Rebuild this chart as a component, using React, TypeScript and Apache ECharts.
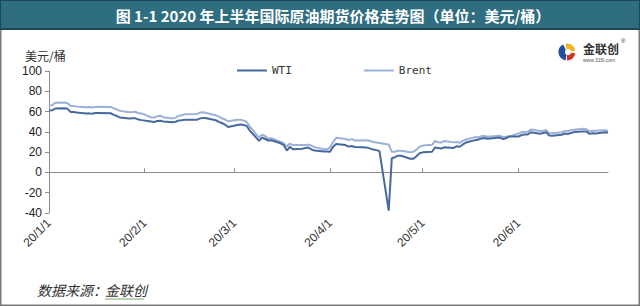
import React, { useEffect, useRef } from "react";
import * as echarts from "echarts";

const dates = [
  "2020-01-01","2020-01-02","2020-01-03","2020-01-06","2020-01-07","2020-01-08","2020-01-09","2020-01-10",
  "2020-01-13","2020-01-14","2020-01-15","2020-01-16","2020-01-17","2020-01-21","2020-01-22","2020-01-23","2020-01-24",
  "2020-01-27","2020-01-28","2020-01-29","2020-01-30","2020-01-31",
  "2020-02-03","2020-02-04","2020-02-05","2020-02-06","2020-02-07","2020-02-10","2020-02-11","2020-02-12","2020-02-13","2020-02-14",
  "2020-02-18","2020-02-19","2020-02-20","2020-02-21","2020-02-24","2020-02-25","2020-02-26","2020-02-27","2020-02-28",
  "2020-03-02","2020-03-03","2020-03-04","2020-03-05","2020-03-06","2020-03-09","2020-03-10","2020-03-11","2020-03-12","2020-03-13",
  "2020-03-16","2020-03-17","2020-03-18","2020-03-19","2020-03-20","2020-03-23","2020-03-24","2020-03-25","2020-03-26","2020-03-27",
  "2020-03-30","2020-03-31","2020-04-01","2020-04-02","2020-04-03","2020-04-06","2020-04-07","2020-04-08","2020-04-09",
  "2020-04-13","2020-04-14","2020-04-15","2020-04-16","2020-04-17","2020-04-20","2020-04-21","2020-04-22","2020-04-23","2020-04-24",
  "2020-04-27","2020-04-28","2020-04-29","2020-04-30","2020-05-01","2020-05-04","2020-05-05","2020-05-06","2020-05-07","2020-05-08",
  "2020-05-11","2020-05-12","2020-05-13","2020-05-14","2020-05-15","2020-05-18","2020-05-19","2020-05-20","2020-05-21","2020-05-22",
  "2020-05-26","2020-05-27","2020-05-28","2020-05-29","2020-06-01","2020-06-02","2020-06-03","2020-06-04","2020-06-05",
  "2020-06-08","2020-06-09","2020-06-10","2020-06-11","2020-06-12","2020-06-15","2020-06-16","2020-06-17","2020-06-18","2020-06-19",
  "2020-06-22","2020-06-23","2020-06-24","2020-06-25","2020-06-26","2020-06-29","2020-06-30",
];

const wti = [
  61.1, 61.18, 63.05, 63.27, 62.7, 59.61, 59.56, 59.04,
  58.08, 58.23, 57.81, 58.52, 58.54, 58.34, 56.74, 55.59, 54.19,
  53.14, 53.48, 53.33, 52.14, 51.56,
  50.11, 49.61, 50.75, 50.95, 50.32, 49.57, 49.94, 51.17, 51.42, 52.05,
  52.05, 53.29, 53.78, 53.38, 51.43, 49.9, 48.73, 47.09, 44.76,
  46.75, 47.18, 46.78, 45.9, 41.28, 31.13, 34.36, 32.98, 31.5, 31.73,
  28.7, 26.95, 21.5, 25.22, 22.9, 23.36, 24.01, 24.49, 22.6, 21.51,
  20.6, 20.6, 20.5, 25.32, 28.0, 27.0, 25.5, 26.0, 25.0,
  24.5, 23.5, 22.5, 22.0, 21.0, -37.63, 14.0, 15.0, 16.5, 16.5,
  13.5, 13.5, 16.0, 19.0, 19.78, 20.39, 24.56, 23.99, 23.55, 24.74,
  24.14, 25.78, 25.29, 27.56, 29.43, 31.82, 32.5, 33.49, 33.92, 33.25,
  34.35, 32.81, 33.71, 35.49, 35.44, 36.81, 37.29, 37.41, 39.55,
  38.19, 38.94, 39.6, 36.34, 36.26, 37.12, 38.38, 37.96, 38.84, 39.75,
  40.46, 40.37, 38.01, 38.72, 38.49, 39.7, 39.27,
];

const brent = [
  66.0, 66.25, 68.6, 68.91, 68.27, 65.44, 65.37, 64.98,
  64.2, 64.49, 64.0, 64.62, 64.85, 64.59, 63.21, 62.04, 60.69,
  59.32, 59.51, 59.81, 58.29, 58.16,
  54.45, 53.96, 55.28, 55.93, 54.47, 53.27, 54.01, 55.79, 56.34, 57.32,
  57.67, 59.12, 59.31, 58.5, 56.3, 54.95, 53.43, 52.18, 50.52,
  51.9, 51.86, 51.13, 49.99, 45.27, 34.36, 37.22, 35.79, 33.22, 33.85,
  30.05, 28.73, 25.5, 28.47, 26.98, 27.03, 27.15, 27.39, 26.34, 24.93,
  22.76, 22.74, 24.74, 29.94, 34.11, 33.05, 31.87, 32.84, 31.48,
  31.74, 31.0, 30.0, 29.5, 29.0, 27.5, 20.3, 20.37, 21.33, 21.44,
  19.99, 20.46, 22.54, 25.27, 26.44, 27.2, 30.97, 29.72, 29.46, 30.97,
  29.63, 29.98, 29.19, 31.13, 32.5, 34.81, 34.65, 35.75, 36.06, 35.13,
  36.17, 34.74, 35.29, 35.33, 38.32, 39.57, 39.79, 39.99, 42.3,
  40.8, 41.18, 41.73, 38.55, 38.73, 39.72, 40.96, 40.71, 41.51, 42.19,
  43.08, 42.63, 40.31, 41.05, 41.02, 41.71, 41.15,
];

const seriesNames = ["WTI", "Brent"];
const yTicks = { min: -40, max: 100, interval: 20 };
const xRange = { min: "2020-01-01", max: "2020-06-30" };

const titleText = "图 1-1 2020 年上半年国际原油期货价格走势图（单位：美元/桶）";
const unitText = "美元/桶";
const sourceLabel = "数据来源：";
const sourceName = "金联创";
const logoName = "金联创";
const logoUrl = "www.315i.com";

const CJK = "'Noto Sans CJK SC', 'Noto Sans', sans-serif";
const LATIN = "'Liberation Sans', Arial, sans-serif";

export default function App() {
  const ref = useRef<HTMLDivElement>(null);

  useEffect(() => {
    if (!ref.current) return;
    const chart = echarts.init(ref.current, undefined, { renderer: "svg" });

    const toPairs = (vals: number[]) => dates.map((d, i) => [d, vals[i]]);

    const option: any = {
      animation: false,
      backgroundColor: "#ffffff",
      grid: { left: 49, right: 32, top: 71, bottom: 93, containLabel: false },
      legend: {
        data: seriesNames,
        left: 232,
        top: 60,
        icon: "rect",
        itemWidth: 30,
        itemHeight: 2,
        itemGap: 72,
        textStyle: { fontFamily: "'DejaVu Sans Mono', monospace", fontSize: 11, color: "#333" },
      },
      xAxis: {
        type: "time",
        min: xRange.min,
        max: xRange.max,
        minInterval: 28 * 86400000,
        maxInterval: 31 * 86400000,
        splitLine: { show: false },
        axisLine: { lineStyle: { color: "#8c8c8c", width: 1 } },
        axisTick: { show: true, inside: true, length: 4, lineStyle: { color: "#8c8c8c" } },
        axisLabel: {
          rotate: 45,
          formatter: "{yy}/{M}/{d}",
          fontFamily: LATIN,
          fontSize: 12,
          color: "#333",
          margin: 8,
          showMinLabel: true,
          showMaxLabel: false,
          hideOverlap: false,
        },
      },
      yAxis: {
        type: "value",
        min: yTicks.min,
        max: yTicks.max,
        interval: yTicks.interval,
        splitLine: { show: false },
        axisLine: { show: true, lineStyle: { color: "#8c8c8c", width: 1 } },
        axisTick: { show: true, length: 4, lineStyle: { color: "#8c8c8c" } },
        axisLabel: { fontFamily: LATIN, fontSize: 12, color: "#222", margin: 7 },
      },
      series: [
        {
          name: "Brent",
          type: "line",
          data: toPairs(brent),
          showSymbol: false,
          symbol: "none",
          z: 2,
          lineStyle: { color: "#9cb1d7", width: 2 },
          itemStyle: { color: "#9cb1d7" },
        },
        {
          name: "WTI",
          type: "line",
          data: toPairs(wti),
          showSymbol: false,
          symbol: "none",
          z: 3,
          lineStyle: { color: "#46699f", width: 2 },
          itemStyle: { color: "#46699f" },
        },
      ],
      graphic: [
        {
          type: "rect",
          shape: { x: 0.5, y: 0.5, width: 639, height: 305 },
          style: { fill: "none", stroke: "#7a7a7a", lineWidth: 2 },
          z: 10,
        },
        {
          type: "rect",
          shape: { x: 0, y: 0, width: 640, height: 29 },
          style: { fill: "#2f6d81", stroke: "#1e4654", lineWidth: 2 },
          z: 11,
        },
        {
          type: "text",
          x: 333,
          y: 15,
          style: {
            text: titleText,
            font: `bold 15px ${CJK}`,
            fill: "#ffffff",
            align: "center",
            verticalAlign: "middle",
          },
          z: 12,
        },
        {
          type: "text",
          x: 25,
          y: 55,
          style: { text: unitText, font: `12px ${CJK}`, fill: "#333", verticalAlign: "middle" },
        },
        {
          type: "text",
          x: 37,
          y: 290,
          style: { text: sourceLabel, font: `italic 14px ${CJK}`, fill: "#333", verticalAlign: "middle" },
        },
        {
          type: "text",
          x: 105,
          y: 290,
          style: { text: sourceName, font: `italic 14px ${CJK}`, fill: "#333", verticalAlign: "middle" },
        },
        {
          type: "line",
          shape: { x1: 105, y1: 299, x2: 144, y2: 299 },
          style: { stroke: "#7aa66a", lineWidth: 1 },
        },
        // logo
        {
          type: "group",
          x: 567,
          y: 52,
          children: [
            { type: "circle", shape: { cx: 0, cy: 0, r: 8.5 }, style: { fill: "#ffffff" } },
            { type: "sector", shape: { cx: 0, cy: 0, r: 8.5, r0: 0, startAngle: Math.PI * 0.55, endAngle: Math.PI * 1.35 }, style: { fill: "#1f4fa3" } },
            { type: "sector", shape: { cx: 0, cy: 0, r: 8.5, r0: 0, startAngle: Math.PI * 0.05, endAngle: Math.PI * 0.5 }, style: { fill: "#d8312a" } },
            { type: "sector", shape: { cx: 0, cy: 0, r: 8.5, r0: 0, startAngle: Math.PI * 1.45, endAngle: Math.PI * 1.95 }, style: { fill: "#f2b418" } },
            { type: "circle", shape: { cx: 1, cy: 0, r: 3.2 }, style: { fill: "#ffffff" } },
          ],
        },
        {
          type: "text",
          x: 583,
          y: 48,
          style: { text: logoName, font: `bold 12px ${CJK}`, fill: "#333", verticalAlign: "middle" },
        },
        {
          type: "text",
          x: 621,
          y: 41,
          style: { text: "®", font: `6px ${LATIN}`, fill: "#333", verticalAlign: "middle" },
        },
        {
          type: "text",
          x: 583,
          y: 60,
          style: { text: logoUrl, font: `5px ${LATIN}`, fill: "#555", verticalAlign: "middle" },
        },
      ],
    };

    chart.setOption(option);
    return () => chart.dispose();
  }, []);

  return (
    <div
      ref={ref}
      style={{ position: "fixed", left: 0, top: 0, width: 640, height: 306, background: "#fff" }}
    />
  );
}
